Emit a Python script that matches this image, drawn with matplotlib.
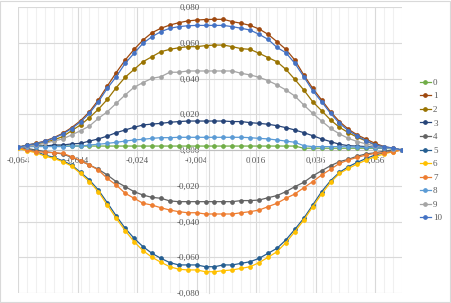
import matplotlib
matplotlib.use("Agg")
import matplotlib.pyplot as plt
from matplotlib.patches import Rectangle

# position along the profile
x = [-0.064, -0.061, -0.058, -0.055, -0.052, -0.049, -0.046, -0.043, -0.040, -0.037,
     -0.034, -0.031, -0.028, -0.025, -0.022, -0.019, -0.016, -0.013, -0.010, -0.007,
     -0.004, -0.001, 0.002, 0.005, 0.008, 0.011, 0.014, 0.017, 0.020, 0.023,
     0.026, 0.029, 0.032, 0.035, 0.038, 0.041, 0.044, 0.047, 0.050, 0.053,
     0.056, 0.059, 0.062, 0.065]

s0 = [0.0015, 0.0022, 0.0022, 0.0022, 0.0022, 0.0022, 0.0022, 0.0022, 0.0022, 0.0022,
      0.0022, 0.0022, 0.0022, 0.0022, 0.0022, 0.0022, 0.0022, 0.0022, 0.0022, 0.0022,
      0.0022, 0.0022, 0.0022, 0.0022, 0.0022, 0.0022, 0.0022, 0.0022, 0.0022, 0.0022,
      0.0022, 0.0022, 0.0010, 0.0010, 0.0010, 0.0010, 0.0010, 0.0010, 0.0010, 0.0010,
      0.0010, 0.0010, 0.0006, 0.0]
s1 = [0.0015, 0.0028, 0.0037, 0.0050, 0.0069, 0.0093, 0.0125, 0.0164, 0.0214, 0.0280,
      0.0358, 0.0433, 0.0503, 0.0563, 0.0615, 0.0656, 0.0681, 0.0699, 0.0712, 0.0722,
      0.0727, 0.0730, 0.0731, 0.0731, 0.0718, 0.0709, 0.0697, 0.0677, 0.0647, 0.0606,
      0.0563, 0.0503, 0.0420, 0.0345, 0.0280, 0.0214, 0.0159, 0.0116, 0.0084, 0.0060,
      0.0037, 0.0019, 0.0009, 0.0]
s2 = [0.0015, 0.0026, 0.0034, 0.0043, 0.0056, 0.0075, 0.0108, 0.0140, 0.0181, 0.0228,
      0.0283, 0.0349, 0.0407, 0.0451, 0.0494, 0.0522, 0.0550, 0.0563, 0.0572, 0.0578,
      0.0578, 0.0584, 0.0587, 0.0587, 0.0578, 0.0567, 0.0563, 0.0541, 0.0517, 0.0494,
      0.0451, 0.0395, 0.0336, 0.0270, 0.0220, 0.0168, 0.0127, 0.0097, 0.0071, 0.0050,
      0.0028, 0.0015, 0.0008, 0.0]
s3 = [0.0015, 0.0019, 0.0022, 0.0022, 0.0028, 0.0028, 0.0034, 0.0037, 0.0050, 0.0062,
      0.0078, 0.0097, 0.0112, 0.0127, 0.0140, 0.0145, 0.0149, 0.0155, 0.0159, 0.0162,
      0.0162, 0.0162, 0.0162, 0.0162, 0.0159, 0.0159, 0.0153, 0.0149, 0.0144, 0.0136,
      0.0125, 0.0112, 0.0097, 0.0080, 0.0062, 0.0047, 0.0032, 0.0024, 0.0022, 0.0019,
      0.0015, 0.0013, 0.0008, 0.0]
s4 = [0.0019, 0.0009, 0.0, -0.0009, -0.0015, -0.0022, -0.0041, -0.0060, -0.0084, -0.0108,
      -0.0140, -0.0177, -0.0205, -0.0233, -0.0252, -0.0265, -0.0270, -0.0285, -0.0289, -0.0289,
      -0.0289, -0.0289, -0.0289, -0.0289, -0.0289, -0.0283, -0.0283, -0.0280, -0.0267, -0.0255,
      -0.0233, -0.0205, -0.0181, -0.0145, -0.0116, -0.0088, -0.0065, -0.0052, -0.0034, -0.0022,
      -0.0015, -0.0007, 0.0, 0.0]
s5 = [0.0015, 0.0004, -0.0009, -0.0028, -0.0041, -0.0060, -0.0084, -0.0125, -0.0168, -0.0224,
      -0.0295, -0.0369, -0.0438, -0.0494, -0.0541, -0.0578, -0.0606, -0.0630, -0.0643, -0.0643,
      -0.0643, -0.0653, -0.0653, -0.0643, -0.0643, -0.0634, -0.0625, -0.0606, -0.0578, -0.0550,
      -0.0503, -0.0444, -0.0382, -0.0308, -0.0233, -0.0172, -0.0125, -0.0093, -0.0069, -0.0047,
      -0.0028, -0.0015, -0.0006, 0.0]
s6 = [0.0009, -0.0004, -0.0015, -0.0034, -0.0047, -0.0065, -0.0090, -0.0131, -0.0177, -0.0233,
      -0.0308, -0.0382, -0.0451, -0.0513, -0.0563, -0.0600, -0.0628, -0.0653, -0.0667, -0.0671,
      -0.0671, -0.0681, -0.0681, -0.0675, -0.0671, -0.0662, -0.0653, -0.0630, -0.0600, -0.0569,
      -0.0518, -0.0457, -0.0392, -0.0317, -0.0246, -0.0181, -0.0131, -0.0103, -0.0078, -0.0056,
      -0.0037, -0.0022, -0.0009, 0.0]
s7 = [0.0015, 0.0, -0.0009, -0.0013, -0.0015, -0.0019, -0.0037, -0.0060, -0.0084, -0.0112,
      -0.0159, -0.0196, -0.0242, -0.0270, -0.0298, -0.0308, -0.0323, -0.0336, -0.0345, -0.0351,
      -0.0351, -0.0358, -0.0358, -0.0358, -0.0358, -0.0351, -0.0345, -0.0336, -0.0317, -0.0298,
      -0.0270, -0.0246, -0.0211, -0.0177, -0.0140, -0.0108, -0.0075, -0.0056, -0.0041, -0.0028,
      -0.0019, -0.0015, -0.0009, 0.0]
s8 = [0.0015, 0.0019, 0.0019, 0.0019, 0.0019, 0.0019, 0.0022, 0.0022, 0.0028, 0.0032,
      0.0037, 0.0043, 0.0050, 0.0056, 0.0060, 0.0065, 0.0069, 0.0069, 0.0071, 0.0071,
      0.0071, 0.0071, 0.0071, 0.0071, 0.0071, 0.0071, 0.0069, 0.0065, 0.0062, 0.0056,
      0.0050, 0.0043, 0.0024, 0.0019, 0.0019, 0.0019, 0.0019, 0.0018, 0.0016, 0.0015,
      0.0013, 0.0011, 0.0008, 0.0]
s9 = [0.0015, 0.0021, 0.0026, 0.0037, 0.0050, 0.0062, 0.0084, 0.0108, 0.0134, 0.0177,
      0.0214, 0.0261, 0.0308, 0.0351, 0.0377, 0.0401, 0.0410, 0.0435, 0.0435, 0.0442,
      0.0442, 0.0442, 0.0442, 0.0442, 0.0442, 0.0429, 0.0420, 0.0407, 0.0388, 0.0364,
      0.0336, 0.0302, 0.0252, 0.0205, 0.0162, 0.0121, 0.0090, 0.0065, 0.0047, 0.0034,
      0.0022, 0.0015, 0.0008, 0.0]
s10 = [0.0015, 0.0027, 0.0036, 0.0048, 0.0066, 0.0089, 0.0120, 0.0157, 0.0205, 0.0270,
       0.0345, 0.0410, 0.0485, 0.0541, 0.0597, 0.0634, 0.0662, 0.0681, 0.0690, 0.0695,
       0.0697, 0.0697, 0.0697, 0.0697, 0.0690, 0.0681, 0.0671, 0.0647, 0.0619, 0.0574,
       0.0544, 0.0485, 0.0410, 0.0332, 0.0270, 0.0205, 0.0149, 0.0108, 0.0078, 0.0052,
       0.0028, 0.0019, 0.0011, 0.0]

labels = ["0", "1", "2", "3", "4", "5", "6", "7", "8", "9", "10"]
series = [s0, s1, s2, s3, s4, s5, s6, s7, s8, s9, s10]
colors = ["#70AD47", "#9E480E", "#997300", "#264478", "#636363", "#255E91",
          "#FFC000", "#ED7D31", "#5B9BD5", "#A5A5A5", "#4472C4"]

xticks = [-0.064, -0.044, -0.024, -0.004, 0.016, 0.036, 0.056]
yticks = [-0.08, -0.06, -0.04, -0.02, 0.0, 0.02, 0.04, 0.06, 0.08]


def fmt(v):
    return ("%.3f" % v).replace(".", ",")


plt.rcParams["font.family"] = ["Liberation Serif", "DejaVu Serif"]

fig = plt.figure(figsize=(4.51, 3.03), dpi=100)
ax = fig.add_axes([18 / 451, 10 / 303, 384 / 451, 286 / 303])

for s, c, lab in zip(series, colors, labels):
    ax.plot(x, s, color=c, lw=0.9, marker="o", ms=2.4, label=lab, zorder=3)

ax.set_xlim(-0.064, 0.065)
ax.set_ylim(-0.08, 0.08)

ax.set_xticks(xticks)
ax.set_xticklabels([fmt(v) for v in xticks])
ax.set_xticks(x, minor=True)
ax.set_yticks(yticks)
ax.set_yticklabels([fmt(v) for v in yticks])

ax.grid(which="major", color="#d9d9d9", lw=0.8)
ax.grid(which="minor", axis="x", color="#f0f0f0", lw=0.8)
ax.set_axisbelow(True)

for side in ["top", "right"]:
    ax.spines[side].set_visible(False)
ax.spines["bottom"].set_position(("data", 0))
ax.spines["left"].set_position(("data", 0))
ax.spines["bottom"].set_color("#bfbfbf")
ax.spines["left"].set_color("#d9d9d9")
for sp in ax.spines.values():
    sp.set_zorder(1)

ax.tick_params(which="both", length=0, labelsize=6.5, labelcolor="#595959")
ax.tick_params(axis="x", pad=5)
ax.tick_params(axis="y", pad=6)

fig.legend(loc="center left", bbox_to_anchor=(420 / 451, 1 - 150.5 / 303),
           frameon=False, fontsize=6.5, handlelength=1.2, handletextpad=0.25,
           labelspacing=0.58, borderpad=0, borderaxespad=0, labelcolor="#595959")

fig.add_artist(Rectangle((0.001, 0.002), 0.997, 0.995, transform=fig.transFigure,
                         fill=False, edgecolor="#d9d9d9", lw=0.8))

fig.savefig("out.png", dpi=100)
